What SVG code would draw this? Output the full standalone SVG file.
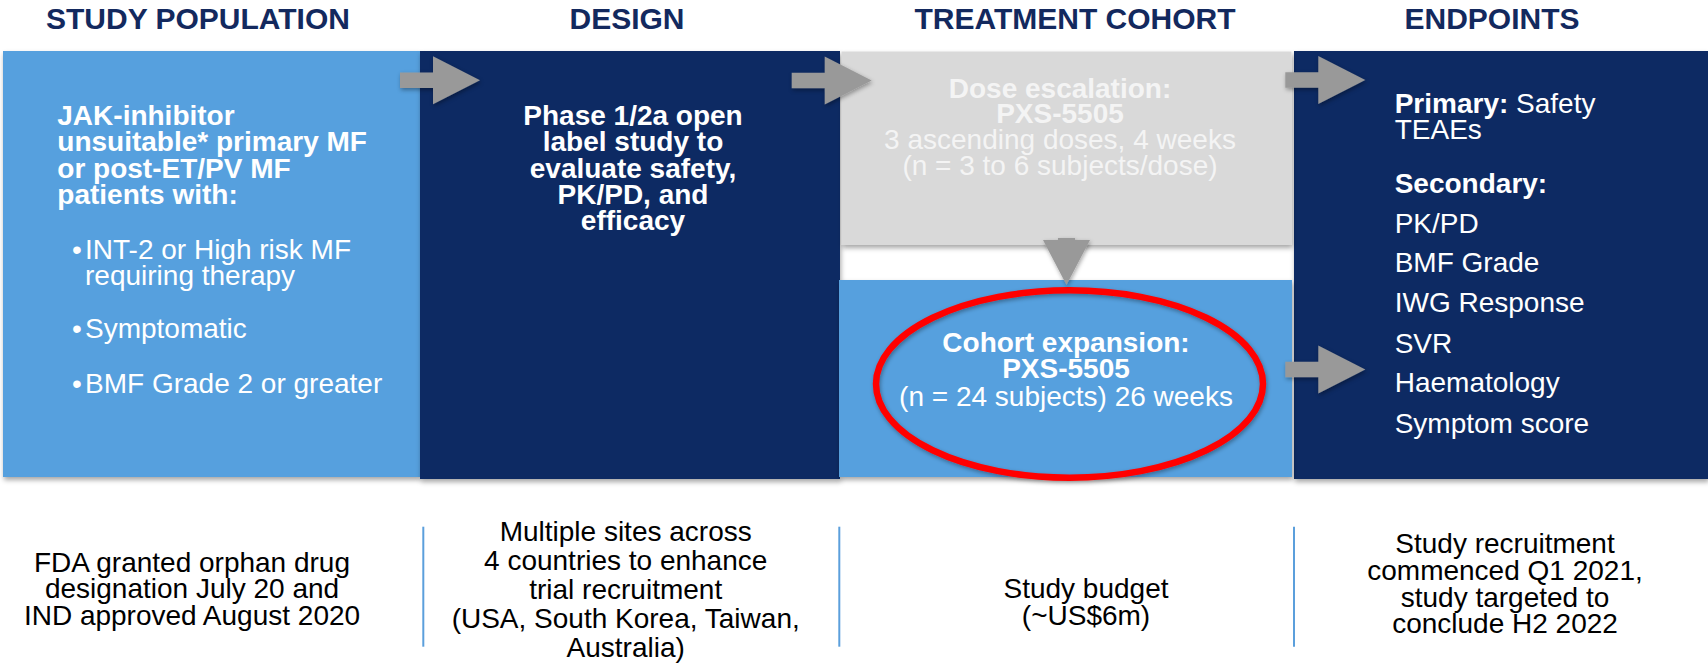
<svg xmlns="http://www.w3.org/2000/svg" width="1708" height="663" viewBox="0 0 1708 663">
<style>
text{font-family:"Liberation Sans",Arial,sans-serif;font-size:28px}
.hdr{font-size:30px;font-weight:bold;fill:#13295e;text-anchor:middle}
.w{fill:#ffffff}
.b{font-weight:bold}
.c{text-anchor:middle}
.g{fill:#f4f4f4}
.k{fill:#000000}
.lb{fill:#56a0de}
.dk{fill:#0f2c63}
.sep{stroke:#5b9fdc;stroke-width:2}
.arr{fill:#999999}
</style>
<defs>
<filter id="sh" x="-10%" y="-10%" width="120%" height="130%">
<feDropShadow dx="1" dy="3" stdDeviation="2.5" flood-color="#000" flood-opacity="0.35"/>
</filter>
<filter id="ash" x="-20%" y="-20%" width="150%" height="150%">
<feDropShadow dx="1" dy="2" stdDeviation="2" flood-color="#000" flood-opacity="0.35"/>
</filter>
<path id="rarrow" d="M0,-7.75 H33 V-24 L80,0 L33,24 V7.75 H0 Z"/>
</defs>

<g id="headers">
<text class="hdr" x="198" y="29">STUDY POPULATION</text>
<text class="hdr" x="627" y="29">DESIGN</text>
<text class="hdr" x="1075" y="29">TREATMENT COHORT</text>
<text class="hdr" x="1492" y="29">ENDPOINTS</text>
</g>

<g id="study-population">
<rect class="lb" x="3" y="51" width="417" height="426" filter="url(#sh)"/>
<text class="w b" x="57.3" y="125">JAK-inhibitor</text>
<text class="w b" x="57.3" y="151.3">unsuitable* primary MF</text>
<text class="w b" x="57.3" y="177.6">or post-ET/PV MF</text>
<text class="w b" x="57.3" y="203.9">patients with:</text>
<text class="w" x="72" y="259.3">•</text>
<text class="w" x="85" y="259.3">INT-2 or High risk MF</text>
<text class="w" x="85" y="285">requiring therapy</text>
<text class="w" x="72" y="338.3">•</text>
<text class="w" x="85" y="338.3">Symptomatic</text>
<text class="w" x="72" y="392.7">•</text>
<text class="w" x="85" y="392.7">BMF Grade 2 or greater</text>
</g>

<g id="design">
<rect class="dk" x="420" y="51" width="420" height="428" filter="url(#sh)"/>
<text class="w b c" x="633" y="125">Phase 1/2a open</text>
<text class="w b c" x="633" y="151.3">label study to</text>
<text class="w b c" x="633" y="177.6">evaluate safety,</text>
<text class="w b c" x="633" y="203.9">PK/PD, and</text>
<text class="w b c" x="633" y="230.2">efficacy</text>
</g>

<g id="endpoints">
<rect class="dk" x="1294" y="51" width="414" height="428" filter="url(#sh)"/>
<text class="w" x="1394.7" y="112.7"><tspan class="b">Primary:</tspan> Safety</text>
<text class="w" x="1394.7" y="139.3">TEAEs</text>
<text class="w b" x="1394.7" y="192.7">Secondary:</text>
<text class="w" x="1394.7" y="232.7">PK/PD</text>
<text class="w" x="1394.7" y="272.3">BMF Grade</text>
<text class="w" x="1394.7" y="312.3">IWG Response</text>
<text class="w" x="1394.7" y="352.7">SVR</text>
<text class="w" x="1394.7" y="392.3">Haematology</text>
<text class="w" x="1394.7" y="432.7">Symptom score</text>
</g>

<g id="dose-escalation">
<rect x="841.5" y="51.5" width="450" height="193.5" fill="#d9d9d9" filter="url(#sh)"/>
<text class="g b c" x="1060" y="97.5">Dose escalation:</text>
<text class="g b c" x="1060" y="123">PXS-5505</text>
<text class="g c" x="1060" y="149">3 ascending doses, 4 weeks</text>
<text class="g c" x="1060" y="175">(n = 3 to 6 subjects/dose)</text>
</g>

<g id="cohort-expansion">
<rect class="lb" x="839" y="280" width="453" height="197" filter="url(#sh)"/>
<ellipse cx="1069.5" cy="384" rx="193.5" ry="93.7" fill="none" stroke="#ff0000" stroke-width="6.5" filter="url(#ash)"/>
<text class="w b c" x="1066" y="351.7">Cohort expansion:</text>
<text class="w b c" x="1066" y="378.3">PXS-5505</text>
<text class="w c" x="1066" y="405.7">(n = 24 subjects) 26 weeks</text>
</g>

<g id="connectors" class="arr" filter="url(#ash)">
<use href="#rarrow" transform="translate(400,80.3)"/>
<use href="#rarrow" transform="translate(791.7,80.5)"/>
<use href="#rarrow" transform="translate(1285.3,80)"/>
<use href="#rarrow" transform="translate(1285.3,369.5)"/>
<path d="M1058,238 H1075 V240 H1090 L1066.5,285 L1043,240 H1058 Z"/>
</g>

<g id="separators">
<line class="sep" x1="423.3" y1="526.7" x2="423.3" y2="646.7"/>
<line class="sep" x1="839.3" y1="526.7" x2="839.3" y2="646.7"/>
<line class="sep" x1="1294" y1="526.7" x2="1294" y2="646.7"/>
</g>

<g id="note-fda">
<text class="k c" x="192" y="571.7">FDA granted orphan drug</text>
<text class="k c" x="192" y="598.3">designation July 20 and</text>
<text class="k c" x="192" y="625">IND approved August 2020</text>
</g>

<g id="note-sites">
<text class="k c" x="625.7" y="541">Multiple sites across</text>
<text class="k c" x="625.7" y="570">4 countries to enhance</text>
<text class="k c" x="625.7" y="599">trial recruitment</text>
<text class="k c" x="625.7" y="628.3">(USA, South Korea, Taiwan,</text>
<text class="k c" x="625.7" y="656.7">Australia)</text>
</g>

<g id="note-budget">
<text class="k c" x="1086" y="598.3">Study budget</text>
<text class="k c" x="1086" y="625">(~US$6m)</text>
</g>

<g id="note-recruitment">
<text class="k c" x="1505" y="553.3">Study recruitment</text>
<text class="k c" x="1505" y="580">commenced Q1 2021,</text>
<text class="k c" x="1505" y="606.7">study targeted to</text>
<text class="k c" x="1505" y="633.3">conclude H2 2022</text>
</g>
</svg>
